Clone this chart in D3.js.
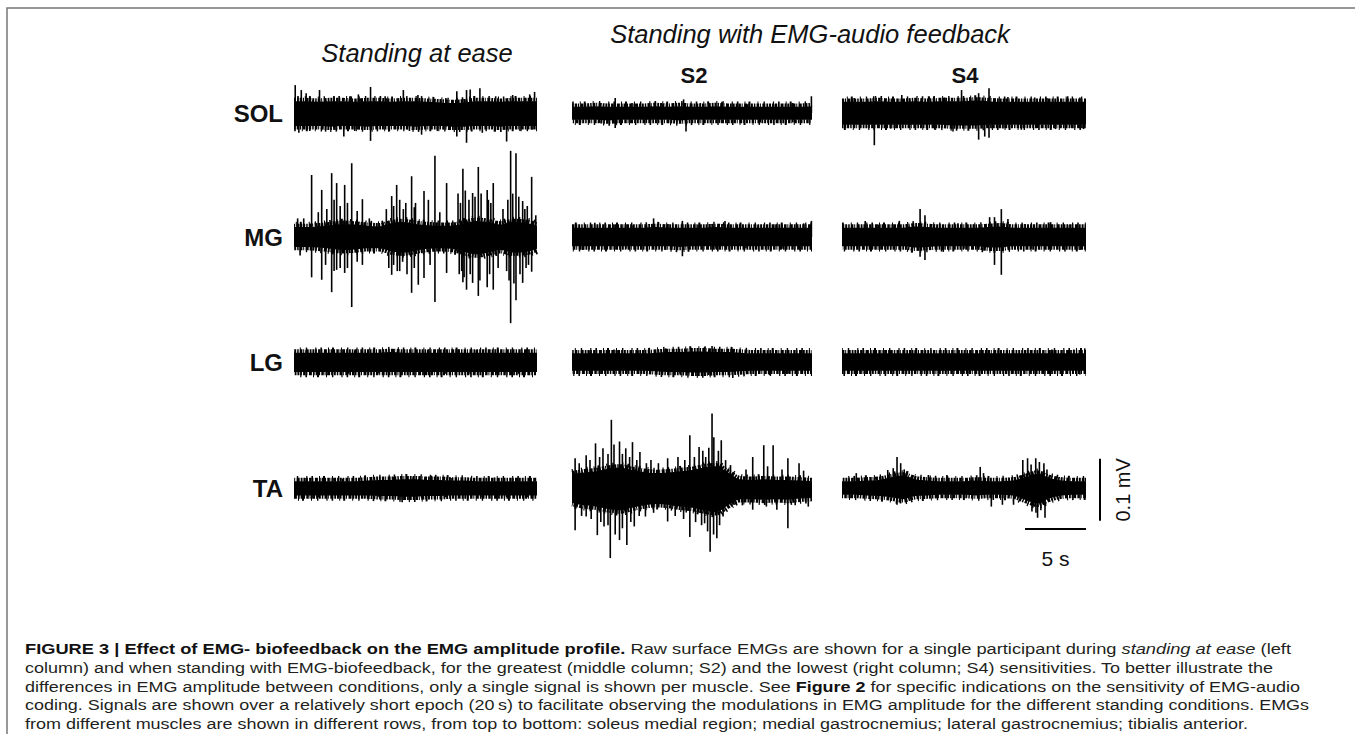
<!DOCTYPE html>
<html><head><meta charset="utf-8">
<script src="https://cdn.jsdelivr.net/npm/d3@7"></script>
<style>
html,body{margin:0;padding:0;background:#fff;}
svg{display:block;}
</style></head>
<body><svg id="chart" width="1355" height="734"></svg>
<script>
// ================= DATA (amplitudes in µV, times in s) =================
const muscles = ["SOL", "MG", "LG", "TA"];
const columnTitles = ["Standing at ease", "S2", "S4"];
const groupTitle = "Standing with EMG-audio feedback";
const envTimes = [0,1,2,3,4,5,6,7,8,9,10,11,12,13,14,15,16,17,18,19,20];
const scaleBarLabels = ["0.1 mV", "5 s"];
const scaleBarValues = [100, 5]; // µV, s

// ---- SOL ----
const SOL_ease_up = [19,19,18,19,19,18,19,19,18,19,19,18,17,16,17,19,19,18,19,19,19];
const SOL_ease_lo = [-21,-21,-21,-22,-21,-21,-22,-21,-21,-21,-22,-21,-21,-22,-22,-21,-21,-22,-21,-21,-21];
const SOL_ease_spikes = [[0.1,45],[0.6,37],[1.0,32],[2.1,37],[3.3,27],[4.6,27],[5.3,30],[6.3,42],[7.5,27],[9.0,37],[10.2,29],[12.5,24],[13.4,35],[14.2,37],[14.5,38],[15.3,40],[16.6,27],[18.0,29],[19.4,30],[19.8,34],
  [0.4,-32],[1.3,-29],[2.6,-30],[4.1,-38],[5.0,-29],[6.3,-45],[7.8,-30],[9.5,-29],[10.5,-35],[11.8,-29],[13.4,-38],[14.2,-48],[15.5,-32],[16.5,-30],[17.5,-46],[18.6,-29],[19.6,-27]];

const SOL_S2_up = [10,10,11,10,10,10,10,11,10,11,10,10,11,10,10,10,10,10,10,10,11];
const SOL_S2_lo = [-11,-11,-11,-12,-11,-11,-11,-11,-11,-12,-11,-11,-11,-11,-11,-11,-11,-11,-11,-11,-11];
const SOL_S2_spikes = [[1.8,16],[3.6,24],[5.0,16],[7.6,14],[9.3,22],[10.7,16],[12.5,18],[14.6,14],[16.8,14],[18.4,16],[19.95,27],
  [2.3,-16],[3.6,-24],[6.2,-16],[9.5,-30],[12.3,-16],[15.7,-15],[18.4,-15]];

const SOL_S4_up = [18,18,18,19,18,18,19,18,19,19,19,20,19,18,18,18,18,18,18,18,18];
const SOL_S4_lo = [-19,-19,-19,-19,-19,-19,-19,-19,-19,-20,-20,-20,-19,-19,-19,-19,-19,-19,-19,-19,-19];
const SOL_S4_spikes = [[2.6,27],[4.9,29],[7.1,27],[9.8,37],[11.2,32],[12.05,40],[13.6,26],[15.8,25],[18.5,27],[1.0,24],[6.0,24],[8.4,25],[10.5,26],[14.3,24],[16.8,24],[19.5,25],
  [2.65,-52],[7.6,-27],[9.1,-30],[11.2,-43],[11.7,-38],[12.05,-40],[14.7,-27],[17.5,-26],[19.8,-26],[0.5,-24],[4.0,-25],[5.5,-24],[13.2,-25],[16.0,-24],[18.8,-24]];

// ---- MG ----
const MG_ease_up = [16,16,17,19,21,20,18,17,22,24,21,19,18,18,22,26,24,20,24,23,18];
const MG_ease_lo = [-16,-16,-17,-19,-21,-20,-18,-18,-23,-25,-22,-19,-18,-19,-24,-28,-25,-21,-25,-24,-19];
const MG_ease_spikes = [[1.45,100],[2.28,76],[3.10,103],[3.51,87],[4.17,84],[4.75,119],[5.63,61],[8.04,66],[8.45,84],[9.68,98],[10.70,74],[11.06,60],[11.60,131],[12.56,87],[13.9,110],[14.7,71],[15.17,113],[15.9,76],[16.4,87],[17.83,139],[18.27,135],[18.82,58],[19.56,97],
  [0.3,30],[0.8,30],[2.0,40],[2.7,45],[3.8,50],[5.2,42],[6.2,30],[7.6,45],[9.2,55],[10.0,55],[12.0,40],[13.5,70],[14.4,60],[16.0,60],[17.2,45],[19.2,50],[19.9,35],
  [3.3,60],[4.4,55],[8.2,50],[8.7,60],[9.0,45],[9.9,48],[13.7,55],[14.1,75],[14.9,65],[15.4,70],[16.2,55],[17.6,60],[18.0,70],[18.5,65],[19.0,45],
  [1.45,-65],[2.28,-69],[3.10,-89],[3.51,-53],[4.17,-58],[4.75,-113],[5.63,-45],[8.04,-61],[8.94,-40],[9.68,-90],[10.23,-77],[10.70,-66],[11.60,-105],[12.56,-58],[13.9,-73],[14.2,-85],[14.7,-74],[15.17,-95],[15.9,-81],[16.4,-85],[17.83,-139],[18.27,-102],[18.82,-74],[19.56,-56],
  [0.5,-30],[2.6,-45],[3.8,-50],[5.2,-40],[7.8,-50],[8.5,-55],[9.3,-60],[11.2,-45],[13.6,-60],[14.0,-65],[16.8,-50],[17.5,-55],[19.1,-50],
  [3.3,-55],[4.4,-50],[8.2,-45],[8.7,-55],[9.9,-50],[13.8,-55],[14.5,-60],[15.3,-70],[16.1,-60],[17.7,-70],[18.1,-75],[18.6,-60],[19.3,-45]];

const MG_S2_up = [15,15,15,15,15,15,15,16,15,15,15,15,16,15,15,15,15,15,15,15,15];
const MG_S2_lo = [-15,-15,-15,-15,-15,-15,-15,-15,-15,-16,-15,-15,-15,-15,-15,-15,-15,-15,-15,-15,-15];
const MG_S2_spikes = [[1.9,23],[6.8,30],[9.2,26],[12.75,26],[19.3,22],[19.95,26],[3.5,20],[5.0,19],[8.0,21],[10.5,20],[11.5,21],[14.0,20],[15.5,19],[17.0,20],[18.2,19],
  [0.9,-21],[1.9,-20],[7.8,-21],[9.2,-31],[4.5,-19],[12.0,-19],[14.5,-18],[17.5,-19]];

const MG_S4_up = [15,15,15,15,15,15,17,16,15,15,15,15,16,17,15,15,15,15,15,15,15];
const MG_S4_lo = [-15,-15,-15,-15,-15,-15,-17,-16,-15,-15,-15,-15,-17,-17,-15,-15,-15,-15,-15,-15,-15];
const MG_S4_spikes = [[1.9,26],[4.7,26],[6.4,45],[6.8,35],[12.1,32],[12.5,32],[13.06,45],[13.6,29],[17.1,24],[3.0,20],[8.0,21],[9.5,22],[10.8,20],[15.0,21],[18.5,20],
  [6.4,-32],[6.8,-37],[8.3,-24],[12.5,-45],[13.06,-61],[19.5,-21],[2.5,-19],[4.0,-20],[10.0,-19],[15.5,-19],[17.0,-20]];

// ---- LG ----
const LG_ease_up = [15,15,15,15,15,15,15,15,16,15,15,15,15,15,15,15,15,15,15,15,15];
const LG_ease_lo = [-16,-16,-16,-16,-16,-16,-16,-16,-16,-16,-16,-16,-16,-16,-16,-16,-16,-16,-16,-16,-16];
const LG_ease_spikes = [[8.2,21],[1.0,19],[3.2,20],[5.0,19],[11.0,19],[13.5,20],[15.0,19],[17.5,20],[19.0,19],
  [10.9,-21],[16.7,-20],[2.0,-19],[4.5,-19],[7.0,-19],[12.5,-19],[14.5,-19],[18.5,-19]];

const LG_S2_up = [14,14,14,14,14,14,14,15,16,16,17,17,16,16,15,14,14,14,14,14,14];
const LG_S2_lo = [-14,-14,-14,-14,-14,-14,-14,-15,-16,-16,-17,-17,-16,-16,-15,-14,-14,-14,-14,-14,-14];
const LG_S2_spikes = [[7.8,22],[11.05,24],[11.67,26],[13.4,21],[1.5,19],[3.5,20],[5.5,19],[9.5,21],[15.0,19],[17.5,19],[19.0,19],
  [11.36,-21],[13.4,-26],[16.45,-21],[2.5,-19],[6.0,-19],[9.0,-19],[18.0,-19]];

const LG_S4_up = [14,14,14,14,14,14,14,14,14,14,14,14,14,14,14,14,14,14,14,14,14];
const LG_S4_lo = [-14,-14,-14,-14,-14,-14,-14,-14,-14,-14,-14,-14,-14,-14,-14,-14,-14,-14,-14,-14,-14];
const LG_S4_spikes = [[2.0,19],[4.0,19],[6.0,19],[8.5,19],[10.5,19],[13.0,19],[15.0,19],[17.2,20],[19.0,20],[19.9,22],
  [1.5,-19],[5.0,-19],[9.5,-19],[12.0,-19],[14.0,-19],[16.5,-19],[19.5,-20]];

// ---- TA ----
const TA_ease_up = [11,11,11,11,11,11,12,13,13,14,14,13,13,12,12,11,11,11,11,11,11];
const TA_ease_lo = [-12,-12,-12,-12,-12,-12,-12,-13,-13,-14,-14,-13,-13,-12,-12,-12,-12,-12,-12,-12,-12];
const TA_ease_spikes = [[8.2,18],[11.3,20],[1.0,16],[2.5,16],[4.0,15],[9.8,17],[13.0,16],[14.8,16],[16.5,17],[18.0,16],[19.5,16],
  [5.84,-17],[8.9,-23],[2.0,-15],[3.8,-15],[7.0,-15],[10.5,-16],[12.5,-15],[15.5,-15],[17.5,-15],[19.2,-15]];

const TA_S2_up = [22,25,27,31,33,29,26,24,25,27,29,33,35,25,14,13,14,13,13,12,11];
const TA_S2_lo = [-24,-28,-30,-34,-36,-32,-28,-26,-27,-30,-32,-36,-39,-28,-18,-18,-19,-18,-19,-17,-16];
const TA_S2_spikes = [[0.26,48],[1.18,53],[1.96,72],[2.58,64],[3.28,110],[3.96,75],[4.48,64],[5.04,74],[5.66,58],[6.58,45],[7.97,48],[8.83,50],[9.82,85],[10.59,66],[11.14,50],[11.67,120],[11.82,82],[12.44,77],[13.21,37],[15.06,50],[15.98,69],[16.76,69],[17.99,48],[18.92,40],
  [0.6,40],[1.5,45],[2.3,50],[3.0,55],[3.5,70],[4.2,55],[4.8,50],[5.4,45],[6.2,40],[7.2,40],[9.4,45],[10.2,50],[10.9,60],[11.4,65],[12.2,60],[12.8,45],[14.5,30],[16.3,35],[17.5,30],[19.3,28],
  [0.26,-68],[1.18,-46],[2.11,-76],[2.67,-62],[3.19,-113],[3.96,-84],[4.57,-92],[5.19,-62],[6.12,-46],[7.97,-54],[9.82,-79],[11.05,-57],[11.51,-103],[12.07,-81],[12.59,-46],[13.37,-27],[15.06,-35],[17.07,-35],[17.99,-65],[19.69,-30],
  [0.8,-45],[1.6,-50],[2.4,-55],[3.0,-60],[3.6,-75],[4.2,-65],[4.9,-55],[5.6,-45],[6.8,-40],[8.6,-45],[9.3,-50],[10.3,-55],[10.8,-60],[11.3,-70],[11.8,-75],[12.3,-60],[14.2,-28],[16.2,-30],[18.6,-28]];

const TA_S4_up = [11,11,12,13,17,20,14,12,11,11,11,12,11,11,12,17,23,16,12,11,11];
const TA_S4_lo = [-11,-11,-12,-13,-15,-18,-13,-12,-11,-11,-11,-12,-11,-11,-12,-19,-25,-17,-12,-11,-11];
const TA_S4_spikes = [[1.17,24],[3.75,29],[4.51,50],[4.81,40],[7.08,21],[8.6,21],[11.33,34],[11.6,24],[14.82,45],[15.21,48],[15.88,48],[16.18,42],[16.55,40],[4.2,32],[5.1,30],[15.5,38],[16.8,30],
  [4.51,-27],[12.24,-30],[13.15,-27],[14.06,-27],[15.57,-38],[16.03,-48],[16.64,-48],[19.07,-16],[4.8,-25],[15.9,-40],[16.3,-36]];

const captionLines = [
  [["b","FIGURE 3 | Effect of EMG- biofeedback on the EMG amplitude profile."],["n"," Raw surface EMGs are shown for a single participant during "],["i","standing at ease"],["n"," (left"]],
  [["n","column) and when standing with EMG-biofeedback, for the greatest (middle column; S2) and the lowest (right column; S4) sensitivities. To better illustrate the"]],
  [["n","differences in EMG amplitude between conditions, only a single signal is shown per muscle. See "],["b","Figure 2"],["n"," for specific indications on the sensitivity of EMG-audio"]],
  [["n","coding. Signals are shown over a relatively short epoch (20\u2009s) to facilitate observing the modulations in EMG amplitude for the different standing conditions. EMGs"]],
  [["n","from different muscles are shown in different rows, from top to bottom: soleus medial region; medial gastrocnemius; lateral gastrocnemius; tibialis anterior."]]
];

// ================= LAYOUT / STYLE =================
const FONT = "'Liberation Sans', Arial, Helvetica, sans-serif";
const colX = [[294,537],[572,812],[842,1086]];
const rowY = [113,237,362,488];
const pxPer100uV = 62;
const captionEnds = [1291,1273,1300,1309,1248];

const svg = d3.select("#chart");
svg.append("rect").attr("width",1355).attr("height",734).attr("fill","#fff");

// frame
svg.append("path").attr("d","M7,734 V8 H1355").attr("fill","none").attr("stroke","#777").attr("stroke-width",1.5);

const traces = [
  [0,0,SOL_ease_up,SOL_ease_lo,SOL_ease_spikes],[0,1,SOL_S2_up,SOL_S2_lo,SOL_S2_spikes],[0,2,SOL_S4_up,SOL_S4_lo,SOL_S4_spikes],
  [1,0,MG_ease_up,MG_ease_lo,MG_ease_spikes],[1,1,MG_S2_up,MG_S2_lo,MG_S2_spikes],[1,2,MG_S4_up,MG_S4_lo,MG_S4_spikes],
  [2,0,LG_ease_up,LG_ease_lo,LG_ease_spikes],[2,1,LG_S2_up,LG_S2_lo,LG_S2_spikes],[2,2,LG_S4_up,LG_S4_lo,LG_S4_spikes],
  [3,0,TA_ease_up,TA_ease_lo,TA_ease_spikes],[3,1,TA_S2_up,TA_S2_lo,TA_S2_spikes],[3,2,TA_S4_up,TA_S4_lo,TA_S4_spikes]
];

// ragged-edge styling (dash patterns on the envelope outline)
const combs = [
  {w:4, off:1.4, dash:"2 1 1.5 1.2 2.5 0.8 1 1.5 3 1 1.8 0.9", dOff:0},
  {w:6, off:2.3, dash:"1.2 4 1.6 6 1 3 2 7 1 5 1.4 8", dOff:2}
];

function yScaleFor(r){
  return d3.scaleLinear().domain([-100,100]).range([rowY[r]+pxPer100uV, rowY[r]-pxPer100uV]);
}

traces.forEach(([r,c,up,lo,spk],k)=>{
  const x = d3.scaleLinear().domain([0,20]).range(colX[c]);
  const y = yScaleFor(r);
  const g = svg.append("g");
  const pts = envTimes.map((t,i)=>({t, u:up[i], l:lo[i]}));
  const area = d3.area().x(d=>x(d.t)).y0(d=>y(d.l)).y1(d=>y(d.u)).curve(d3.curveMonotoneX);
  g.append("path").attr("d",area(pts)).attr("fill","#000");
  const upLine = d3.line().x(d=>x(d.t)).y(d=>y(d.u)).curve(d3.curveMonotoneX);
  const loLine = d3.line().x(d=>x(d.t)).y(d=>y(d.l)).curve(d3.curveMonotoneX);
  combs.forEach((cb,j)=>{
    g.append("path").attr("d",upLine(pts)).attr("transform",`translate(0,${-cb.off})`)
      .attr("fill","none").attr("stroke","#000").attr("stroke-width",cb.w)
      .attr("stroke-dasharray",cb.dash).attr("stroke-dashoffset",cb.dOff + k*3);
    g.append("path").attr("d",loLine(pts)).attr("transform",`translate(0,${cb.off})`)
      .attr("fill","none").attr("stroke","#000").attr("stroke-width",cb.w)
      .attr("stroke-dasharray",cb.dash).attr("stroke-dashoffset",cb.dOff + k*5 + 3);
  });
  g.selectAll("line.spk").data(spk).join("line").attr("class","spk")
    .attr("x1",d=>x(d[0])).attr("x2",d=>x(d[0]))
    .attr("y1",y(0)).attr("y2",d=>y(d[1]))
    .attr("stroke","#000").attr("stroke-width",1.6);
});

// row labels
svg.selectAll("text.row").data(muscles).join("text").attr("class","row")
  .attr("x",283).attr("y",(d,i)=>rowY[i]+8.5).attr("text-anchor","end")
  .attr("font-family",FONT).attr("font-weight","bold").attr("font-size",24).attr("fill","#111").text(d=>d);

// column titles
svg.append("text").attr("x",417).attr("y",62).attr("text-anchor","middle")
  .attr("font-family",FONT).attr("font-style","italic").attr("font-size",25.5).attr("fill","#111").text(columnTitles[0]);
svg.append("text").attr("x",810).attr("y",43).attr("text-anchor","middle")
  .attr("font-family",FONT).attr("font-style","italic").attr("font-size",25.5).attr("fill","#111").text(groupTitle);
[1,2].forEach(c=>{
  svg.append("text").attr("x",c===1?694:965).attr("y",83).attr("text-anchor","middle")
    .attr("font-family",FONT).attr("font-weight","bold").attr("font-size",22).attr("fill","#111").text(columnTitles[c]);
});

// scale bars (drawn through the TA row / S4 column scales)
const yTA = yScaleFor(3);
const xS4 = d3.scaleLinear().domain([0,20]).range(colX[2]);
const vBarX = 1100, vBarBottom = -53;
svg.append("line").attr("x1",vBarX).attr("x2",vBarX)
  .attr("y1",yTA(vBarBottom)).attr("y2",yTA(vBarBottom+scaleBarValues[0]))
  .attr("stroke","#000").attr("stroke-width",2);
svg.append("text").attr("transform",`translate(1130,${(yTA(vBarBottom)+yTA(vBarBottom+scaleBarValues[0]))/2}) rotate(-90)`)
  .attr("text-anchor","middle").attr("font-family",FONT).attr("font-size",20).attr("fill","#111").text(scaleBarLabels[0]);
const hBarY = 529;
svg.append("line").attr("x1",xS4(20-scaleBarValues[1])).attr("x2",xS4(20)).attr("y1",hBarY).attr("y2",hBarY)
  .attr("stroke","#000").attr("stroke-width",2);
svg.append("text").attr("x",(xS4(20-scaleBarValues[1])+xS4(20))/2).attr("y",566).attr("text-anchor","middle")
  .attr("font-family",FONT).attr("font-size",21).attr("fill","#111").text(scaleBarLabels[1]);

// caption
const capX = 25, capY0 = 654, capDy = 18.8;
captionLines.forEach((parts,i)=>{
  const t = svg.append("text").attr("x",capX).attr("y",capY0+i*capDy)
    .attr("font-family",FONT).attr("font-size",15.5).attr("fill","#231f20")
    .attr("textLength",captionEnds[i]-capX).attr("lengthAdjust","spacingAndGlyphs");
  parts.forEach(([s,str])=>{
    const ts = t.append("tspan").text(str);
    if(s==="b") ts.attr("font-weight","bold").attr("fill","#111");
    if(s==="i") ts.attr("font-style","italic");
  });
});
</script>
</body></html>
